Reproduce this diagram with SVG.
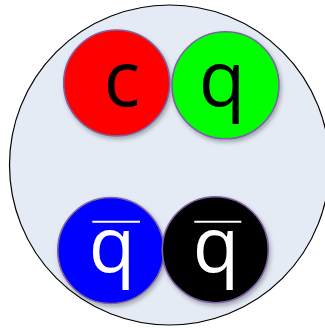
<svg xmlns="http://www.w3.org/2000/svg" width="325" height="328" viewBox="0 0 325 328">
<defs>
<filter id="sh" x="-20%" y="-20%" width="150%" height="150%">
<feDropShadow dx="1.5" dy="2.5" stdDeviation="2" flood-color="#000" flood-opacity="0.3"/>
</filter>
<style>
.q{stroke:#7b62a3;stroke-width:1.6;filter:url(#sh)}
.t{font-family:"Open Sans","Noto Sans",sans-serif;font-size:76px;text-anchor:middle}
.bar{stroke:#fff;stroke-width:2}
</style>
</defs>
<g id="hadron">
<circle cx="169.5" cy="165" r="160" fill="#e4ebf4" stroke="#000" stroke-width="1.2"/>
</g>
<g id="c-quark">
<circle class="q" cx="116.7" cy="83" r="53" fill="#ff0000"/>
<text class="t" x="122" y="106" fill="#000">c</text>
</g>
<g id="q-quark">
<circle class="q" cx="225.5" cy="85.3" r="53.5" fill="#00ff00"/>
<text class="t" x="222" y="106" fill="#000">q</text>
</g>
<g id="antiq-blue">
<circle class="q" cx="110.8" cy="250.5" r="53" fill="#0000ff"/>
<text class="t" x="112" y="272" fill="#fff">q</text>
<line class="bar" x1="92.3" y1="221.7" x2="140" y2="221.7"/>
</g>
<g id="antiq-black">
<circle class="q" cx="215.3" cy="249.7" r="53" fill="#000"/>
<text class="t" x="216" y="272" fill="#fff">q</text>
<line class="bar" x1="194.3" y1="221.7" x2="241.3" y2="221.7"/>
</g>
<g id="connectors"/>
</svg>
